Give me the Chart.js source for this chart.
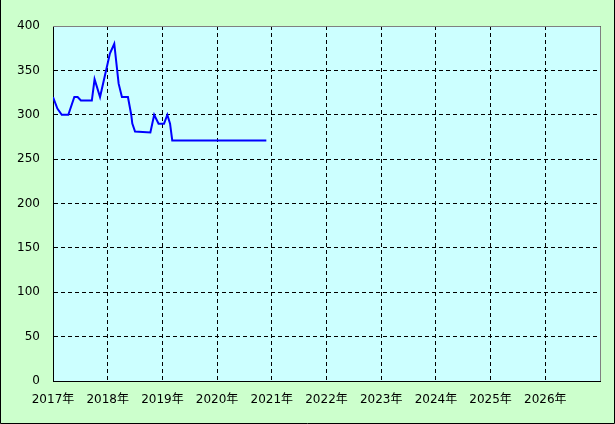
<!DOCTYPE html>
<html>
<head>
<meta charset="utf-8">
<script src="https://cdn.jsdelivr.net/npm/chart.js@4"></script>
<style>
  html, body { margin: 0; padding: 0; background: #ccffcc; }
  #wrap { width: 615px; height: 424px; }
</style>
</head>
<body>
<div id="wrap"><canvas id="chart" width="615" height="424"></canvas></div>
<script>
// dates as decimal years, prices
var years = [2017.00, 2017.08, 2017.16, 2017.28, 2017.39, 2017.45, 2017.51, 2017.71, 2017.76, 2017.86,
             2018.04, 2018.12, 2018.20, 2018.26, 2018.37, 2018.43, 2018.45, 2018.50, 2018.78,
             2018.85, 2018.93, 2019.03, 2019.09, 2019.14, 2019.18, 2020.90];
var prices = [320, 307, 300, 300, 320, 320, 316, 316, 340, 320,
              369, 380, 335, 320, 320, 300, 290, 281, 280,
              300, 290, 290, 300, 290, 271, 271];
var yTicks = [0, 50, 100, 150, 200, 250, 300, 350, 400];
var xFirst = 2017, xLast = 2027;

var points = [];
for (var i = 0; i < years.length; i++) {
    points.push({ x: years[i], y: prices[i] });
}

var FONT = "'DejaVu Sans', 'Noto Sans CJK JP', sans-serif";

var frame = {
    id: "frame",
    beforeDraw: function(chart) {
        var ctx = chart.ctx, a = chart.chartArea;
        ctx.save();
        ctx.fillStyle = "#ccffcc";
        ctx.fillRect(0, 0, chart.width, chart.height);
        ctx.fillStyle = "#ccffff";
        ctx.fillRect(a.left, a.top, a.right - a.left, a.bottom - a.top);
        ctx.restore();
    },
    afterDraw: function(chart) {
        var ctx = chart.ctx, a = chart.chartArea;
        ctx.save();
        ctx.lineWidth = 1;
        ctx.strokeStyle = "#808080";
        ctx.beginPath();
        ctx.moveTo(a.left, a.top + 0.5);
        ctx.lineTo(a.right + 0.5, a.top + 0.5);
        ctx.lineTo(a.right + 0.5, a.bottom);
        ctx.stroke();
        ctx.strokeStyle = "#000";
        ctx.beginPath();
        ctx.moveTo(0.5, 0);
        ctx.lineTo(0.5, chart.height - 0.5);
        ctx.lineTo(chart.width - 0.5, chart.height - 0.5);
        ctx.lineTo(chart.width - 0.5, 0);
        ctx.stroke();
        ctx.restore();
    }
};

var config = {
    type: "line",
    data: {
        datasets: [{
            data: points,
            borderColor: "#0000ff",
            borderWidth: 2,
            pointRadius: 0,
            tension: 0,
            fill: false
        }]
    },
    options: {
        responsive: false,
        animation: false,
        layout: { padding: { left: 0, top: 26, right: 15, bottom: 0 } },
        plugins: { legend: { display: false }, tooltip: { enabled: false } },
        scales: {
            x: {
                type: "linear",
                min: xFirst,
                max: xLast,
                afterFit: function(s) { s.height = 43; },
                ticks: {
                    stepSize: 1,
                    padding: 12,
                    maxRotation: 0,
                    color: "#000",
                    font: { family: FONT, size: 12 },
                    callback: function(v) { return v === xLast ? "" : v + "年"; }
                },
                grid: { color: "#000", lineWidth: 1, drawTicks: false },
                border: { display: true, color: "#000", width: 1, dash: [4, 3] }
            },
            y: {
                min: yTicks[0],
                max: yTicks[yTicks.length - 1],
                afterFit: function(s) { s.width = 53; },
                afterBuildTicks: function(s) {
                    s.ticks = yTicks.map(function(v) { return { value: v }; });
                },
                ticks: {
                    padding: 13,
                    color: "#000",
                    font: { family: FONT, size: 12 }
                },
                grid: { color: "#000", lineWidth: 1, drawTicks: false },
                border: { display: true, color: "#000", width: 1, dash: [4, 3] }
            }
        }
    },
    plugins: [frame]
};

var ctx = document.getElementById("chart").getContext("2d");
var oneChart = new Chart(ctx, config);
</script>
</body>
</html>
